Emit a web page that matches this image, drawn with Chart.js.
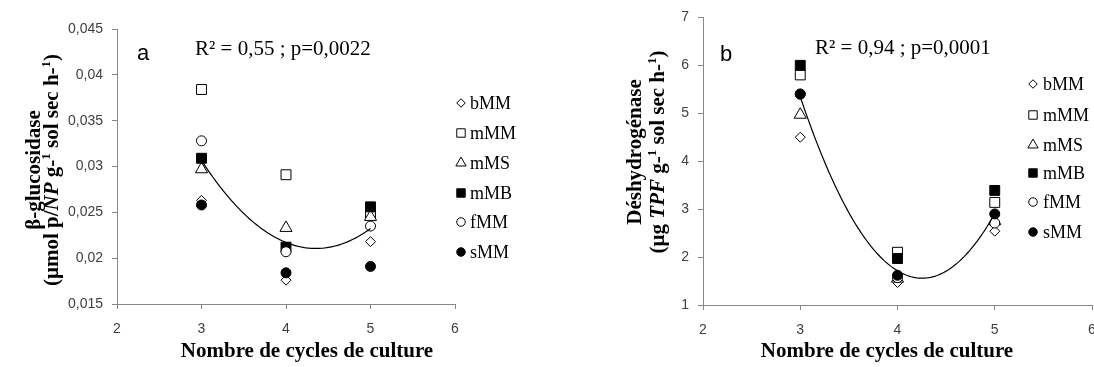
<!DOCTYPE html>
<html>
<head>
<meta charset="utf-8">
<script src="https://cdn.jsdelivr.net/npm/chart.js@4/dist/chart.umd.min.js"></script>
<style>
html,body{margin:0;padding:0;background:#fff;overflow:hidden;width:1094px;height:367px;}
#wrapA{position:absolute;left:0;top:0;width:547px;height:367px;}
#wrapB{position:absolute;left:547px;top:0;width:567px;height:367px;}
</style>
</head>
<body>
<div id="wrapA"><canvas id="chartA" width="547" height="367"></canvas></div>
<div id="wrapB"><canvas id="chartB" width="567" height="367"></canvas></div>
<script>
// ---- Data ----
const cycles = [3, 4, 5];
const seriesNames = ['bMM', 'mMM', 'mMS', 'mMB', 'fMM', 'sMM'];

// Panel a : β-glucosidase
const glucBMM = [0.0263, 0.0176, 0.0218];
const glucMMM = [0.0384, 0.0291, 0.0249];
const glucMMS = [0.0297, 0.0233, 0.0245];
const glucMMB = [0.0309, 0.0212, 0.0256];
const glucFMM = [0.0328, 0.0207, 0.0235];
const glucSMM = [0.0258, 0.0184, 0.0191];

// Panel b : Déshydrogénase
const deshBMM = [4.50, 1.47, 2.54];
const deshMMM = [5.80, 2.10, 3.14];
const deshMMS = [4.97, 1.55, 2.75];
const deshMMB = [6.00, 1.97, 3.39];
const deshFMM = [5.40, 1.57, 2.71];
const deshSMM = [5.40, 1.62, 2.90];

const xTicks = [2, 3, 4, 5, 6];
const glucTicks = [0.015, 0.02, 0.025, 0.03, 0.035, 0.04, 0.045];
const deshTicks = [1, 2, 3, 4, 5, 6, 7];

const statsA = 'R² = 0,55 ; p=0,0022';
const statsB = 'R² = 0,94 ; p=0,0001';
const xTitle = 'Nombre de cycles de culture';

// ---- Styles ----
const markerStyles = [
  {pointStyle: 'rectRot', radius: 5, fill: '#ffffff'},
  {pointStyle: 'rect', radius: 7, fill: '#ffffff'},
  {pointStyle: 'triangle', radius: 7, fill: '#ffffff'},
  {pointStyle: 'rect', radius: 7, fill: '#000000'},
  {pointStyle: 'circle', radius: 5, fill: '#ffffff'},
  {pointStyle: 'circle', radius: 5, fill: '#000000'}
];
const AXIS = '#888888';
const TICKC = '#404040';
const SERIF = '"Liberation Serif", "Times New Roman", serif';
const SANS = '"Liberation Sans", Arial, sans-serif';

// quadratic least squares trend line from all points
function quadFit(seriesList) {
  const xs = [], ys = [];
  seriesList.forEach(s => s.forEach((v, i) => { xs.push(cycles[i]); ys.push(v); }));
  const S = [0,0,0,0,0], T = [0,0,0];
  for (let k = 0; k < xs.length; k++) {
    let p = 1;
    for (let j = 0; j < 5; j++) { S[j] += p; if (j < 3) T[j] += p * ys[k]; p *= xs[k]; }
  }
  const M = [[S[0],S[1],S[2],T[0]],[S[1],S[2],S[3],T[1]],[S[2],S[3],S[4],T[2]]];
  for (let c = 0; c < 3; c++) {
    for (let r = c + 1; r < 3; r++) {
      const f = M[r][c] / M[c][c];
      for (let k = c; k < 4; k++) M[r][k] -= f * M[c][k];
    }
  }
  const a = [0,0,0];
  for (let r = 2; r >= 0; r--) {
    let s = M[r][3];
    for (let k = r + 1; k < 3; k++) s -= M[r][k] * a[k];
    a[r] = s / M[r][r];
  }
  const pts = [];
  for (let x = cycles[0]; x <= cycles[cycles.length - 1] + 1e-9; x += 0.02) {
    pts.push({x: x, y: a[0] + a[1] * x + a[2] * x * x});
  }
  return pts;
}

function buildDatasets(seriesList) {
  const ds = seriesList.map((vals, i) => ({
    label: seriesNames[i],
    data: vals.map((v, j) => ({x: cycles[j], y: v})),
    showLine: false,
    pointStyle: markerStyles[i].pointStyle,
    pointRadius: markerStyles[i].radius,
    pointBackgroundColor: markerStyles[i].fill,
    pointBorderColor: '#000000',
    pointBorderWidth: 1,
    order: 6 - i
  }));
  ds.push({
    label: 'trend',
    data: quadFit(seriesList),
    showLine: true,
    borderColor: '#000000',
    borderWidth: 1.2,
    pointRadius: 0,
    tension: 0,
    order: -1
  });
  return ds;
}

function drawMarker(ctx, style, r, x, y, fill) {
  ctx.save();
  ctx.beginPath();
  if (style === 'circle') {
    ctx.arc(x, y, r, 0, Math.PI * 2);
  } else if (style === 'rect') {
    const s = Math.SQRT1_2 * r;
    ctx.rect(x - s, y - s, 2 * s, 2 * s);
  } else if (style === 'rectRot') {
    ctx.moveTo(x - r, y); ctx.lineTo(x, y - r); ctx.lineTo(x + r, y); ctx.lineTo(x, y + r); ctx.closePath();
  } else if (style === 'triangle') {
    ctx.moveTo(x, y - r);
    ctx.lineTo(x + Math.sin(2 * Math.PI / 3) * r, y + r / 2);
    ctx.lineTo(x - Math.sin(2 * Math.PI / 3) * r, y + r / 2);
    ctx.closePath();
  }
  ctx.fillStyle = fill; ctx.fill();
  ctx.lineWidth = 1; ctx.strokeStyle = '#000'; ctx.stroke();
  ctx.restore();
}

function drawRich(ctx, segs, size) {
  const fontOf = s => (s.i ? 'italic ' : '') + 'bold ' + (s.sup ? Math.round(size * 0.62) : size) + 'px ' + SERIF;
  let total = 0;
  segs.forEach(s => { ctx.font = fontOf(s); s.w = ctx.measureText(s.t).width; total += s.w; });
  let x = -total / 2;
  ctx.textAlign = 'left';
  ctx.textBaseline = 'alphabetic';
  segs.forEach(s => {
    ctx.font = fontOf(s);
    ctx.fillText(s.t, x, s.sup ? -size * 0.38 : 0);
    x += s.w;
  });
}

function makeDecor(cfg) {
  return {
    id: 'decor',
    afterDraw(chart) {
      const ctx = chart.ctx;
      ctx.save();
      ctx.fillStyle = '#000';
      ctx.font = '22px ' + SANS;
      ctx.textAlign = 'center'; ctx.textBaseline = 'alphabetic';
      ctx.fillText(cfg.letter, cfg.letterX, cfg.letterY);
      ctx.font = '21px ' + SERIF;
      ctx.textAlign = 'left';
      ctx.fillText(cfg.stats, cfg.statsX, cfg.statsY);
      ctx.font = 'bold 21px ' + SERIF;
      ctx.textAlign = 'center';
      ctx.fillText(xTitle, cfg.xTitleX, cfg.xTitleY);
      cfg.yLines.forEach(line => {
        ctx.save();
        ctx.translate(line.bx, cfg.yCenter);
        ctx.rotate(-Math.PI / 2);
        drawRich(ctx, line.segs, 21);
        ctx.restore();
      });
      seriesNames.forEach((name, i) => {
        const y = cfg.legendY[i];
        const m = markerStyles[i];
        drawMarker(ctx, m.pointStyle, m.radius * 0.85, cfg.legendMX, y, m.fill);
        ctx.fillStyle = '#000';
        ctx.font = '18px ' + SERIF;
        ctx.textAlign = 'left'; ctx.textBaseline = 'middle';
        ctx.fillText(name, cfg.legendTX, y + 1);
      });
      ctx.restore();
    }
  };
}

function fmtComma(v) {
  return String(parseFloat(Number(v).toFixed(4))).replace('.', ',');
}

function makeChart(canvasId, seriesList, yMin, yMax, yTickList, yWidth, xHeight, padding, decor) {
  return new Chart(document.getElementById(canvasId), {
    type: 'scatter',
    data: {datasets: buildDatasets(seriesList)},
    options: {
      responsive: false,
      animation: false,
      devicePixelRatio: 1,
      layout: {padding: padding},
      plugins: {legend: {display: false}, tooltip: {enabled: false}},
      scales: {
        x: {
          type: 'linear', min: xTicks[0], max: xTicks[xTicks.length - 1],
          afterBuildTicks: s => { s.ticks = xTicks.map(v => ({value: v})); },
          ticks: {color: TICKC, font: {family: SANS, size: 14}, padding: 12, callback: v => String(v)},
          grid: {display: true, drawOnChartArea: false, drawTicks: true, tickLength: 5, color: AXIS},
          border: {display: true, color: AXIS, width: 1},
          afterFit: s => { s.height = xHeight; }
        },
        y: {
          type: 'linear', min: yMin, max: yMax,
          afterBuildTicks: s => { s.ticks = yTickList.map(v => ({value: v})); },
          ticks: {color: TICKC, font: {family: SANS, size: 14}, padding: 9, callback: v => fmtComma(v)},
          grid: {display: true, drawOnChartArea: false, drawTicks: true, tickLength: 5, color: AXIS},
          border: {display: true, color: AXIS, width: 1},
          afterFit: s => { s.width = yWidth; }
        }
      }
    },
    plugins: [makeDecor(decor)]
  });
}

makeChart('chartA', [glucBMM, glucMMM, glucMMS, glucMMB, glucFMM, glucSMM],
  0.015, 0.045, glucTicks, 117, 63, {top: 29, right: 92, bottom: 0, left: 0},
  {
    letter: 'a', letterX: 143, letterY: 60,
    stats: statsA, statsX: 195, statsY: 55,
    xTitleX: 307, xTitleY: 357,
    yCenter: 170,
    yLines: [
      {bx: 40, segs: [{t: 'β-glucosidase'}]},
      {bx: 58, segs: [{t: '(µmol p/'}, {t: 'NP', i: true}, {t: ' g-'}, {t: '1', sup: true}, {t: ' sol sec h-'}, {t: '1', sup: true}, {t: ')'}]}
    ],
    legendMX: 461, legendTX: 470,
    legendY: [103, 133, 163, 193, 222, 252]
  });

makeChart('chartB', [deshBMM, deshMMM, deshMMS, deshMMB, deshFMM, deshSMM],
  1, 7, deshTicks, 156, 62, {top: 13, right: 22, bottom: 0, left: 0},
  {
    letter: 'b', letterX: 179, letterY: 61,
    stats: statsB, statsX: 268, statsY: 54,
    xTitleX: 340, xTitleY: 357,
    yCenter: 152,
    yLines: [
      {bx: 94, segs: [{t: 'Déshydrogénase'}]},
      {bx: 117, segs: [{t: '(µg '}, {t: 'TPF', i: true}, {t: ' g-'}, {t: '1', sup: true}, {t: ' sol sec h-'}, {t: '1', sup: true}, {t: ')'}]}
    ],
    legendMX: 486, legendTX: 496,
    legendY: [84, 115, 145, 173, 202, 232]
  });
</script>
</body>
</html>
